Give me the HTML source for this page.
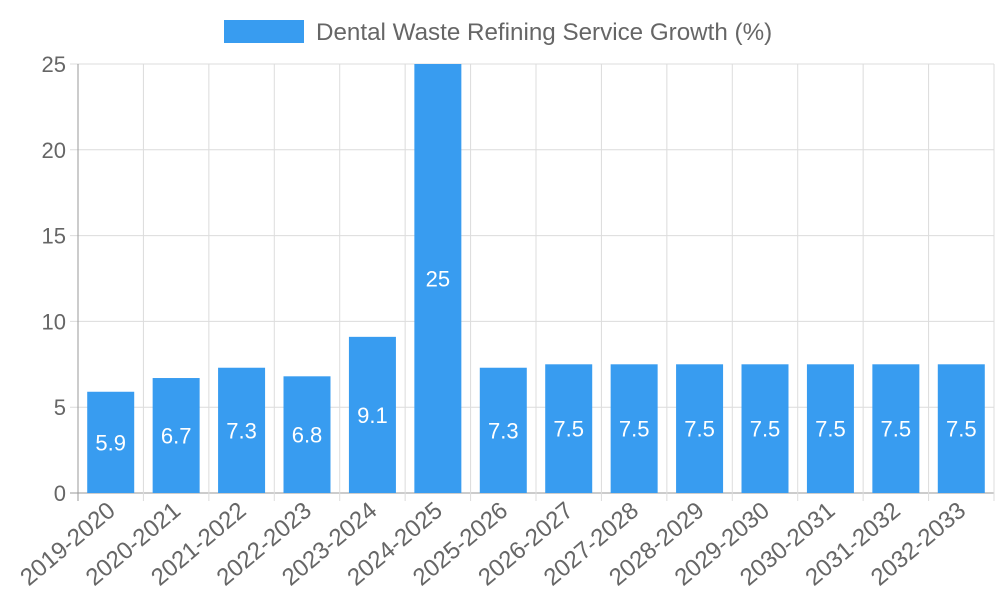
<!DOCTYPE html>
<html><head><meta charset="utf-8"><style>
html,body{margin:0;padding:0;background:#fff;}
svg{display:block;font-family:"Liberation Sans",sans-serif;}
</style></head><body>
<svg id="chart" width="1000" height="600">
<g>
<rect x="224" y="20" width="80" height="23" fill="#389cf0"></rect>
<text x="316" y="40" font-size="24.2" fill="#666">Dental Waste Refining Service Growth (%)</text>
</g>
<g id="grid"></g><g id="bars"></g><g id="axes"></g>
</svg>
<script>
const categories=["2019-2020","2020-2021","2021-2022","2022-2023","2023-2024","2024-2025","2025-2026","2026-2027","2027-2028","2028-2029","2029-2030","2030-2031","2031-2032","2032-2033"];
const values=[5.9,6.7,7.3,6.8,9.1,25,7.3,7.5,7.5,7.5,7.5,7.5,7.5,7.5];
const yTicks=[0,5,10,15,20,25];
const NS="http://www.w3.org/2000/svg";
const L=78,R=994,T=64,B=493,yMax=25;
const bw=(R-L)/categories.length;
const x=i=>L+bw*i;
const y=v=>B-(v/yMax)*(B-T);
function mk(tag,attrs,parent){const e=document.createElementNS(NS,tag);for(const k in attrs)e.setAttribute(k,attrs[k]);parent.appendChild(e);return e;}
const grid=document.getElementById('grid'),bars=document.getElementById('bars'),axes=document.getElementById('axes');
yTicks.forEach(t=>{
 const ln=mk('line',{x1:L-8,x2:R,y1:y(t),y2:y(t),stroke:t===0?'#999':'#dcdcdc','stroke-width':1},grid);
 
 
 const tx=mk('text',{x:L-12,y:y(t)+8,'text-anchor':'end','font-size':22,fill:'#666'},axes);
 tx.textContent=t;
 
 
});
for(let i=0;i<=categories.length;i++){
 const ln=mk('line',{x1:x(i),x2:x(i),y1:T,y2:B+8,stroke:i===0?'#999':'#dcdcdc','stroke-width':1},grid);
 
 
}
categories.forEach((c,i)=>{
 const cx=x(i)+bw/2,w=47,v=values[i];
 const r=mk('rect',{x:cx-w/2,y:y(v),width:w,height:B-y(v),fill:'#389cf0'},bars);
 
 
 const vt=mk('text',{x:cx,y:(y(v)+B)/2+8,'text-anchor':'middle','font-size':22,fill:'#fff'},bars);
 vt.textContent=v;
 
 
 const lt=mk('text',{x:cx+6,y:B+20,'text-anchor':'end','font-size':24,fill:'#666',transform:`rotate(-40 ${cx+6} ${B+20})`},axes);
 lt.textContent=c;
 
 
});
</script>
</body></html>
